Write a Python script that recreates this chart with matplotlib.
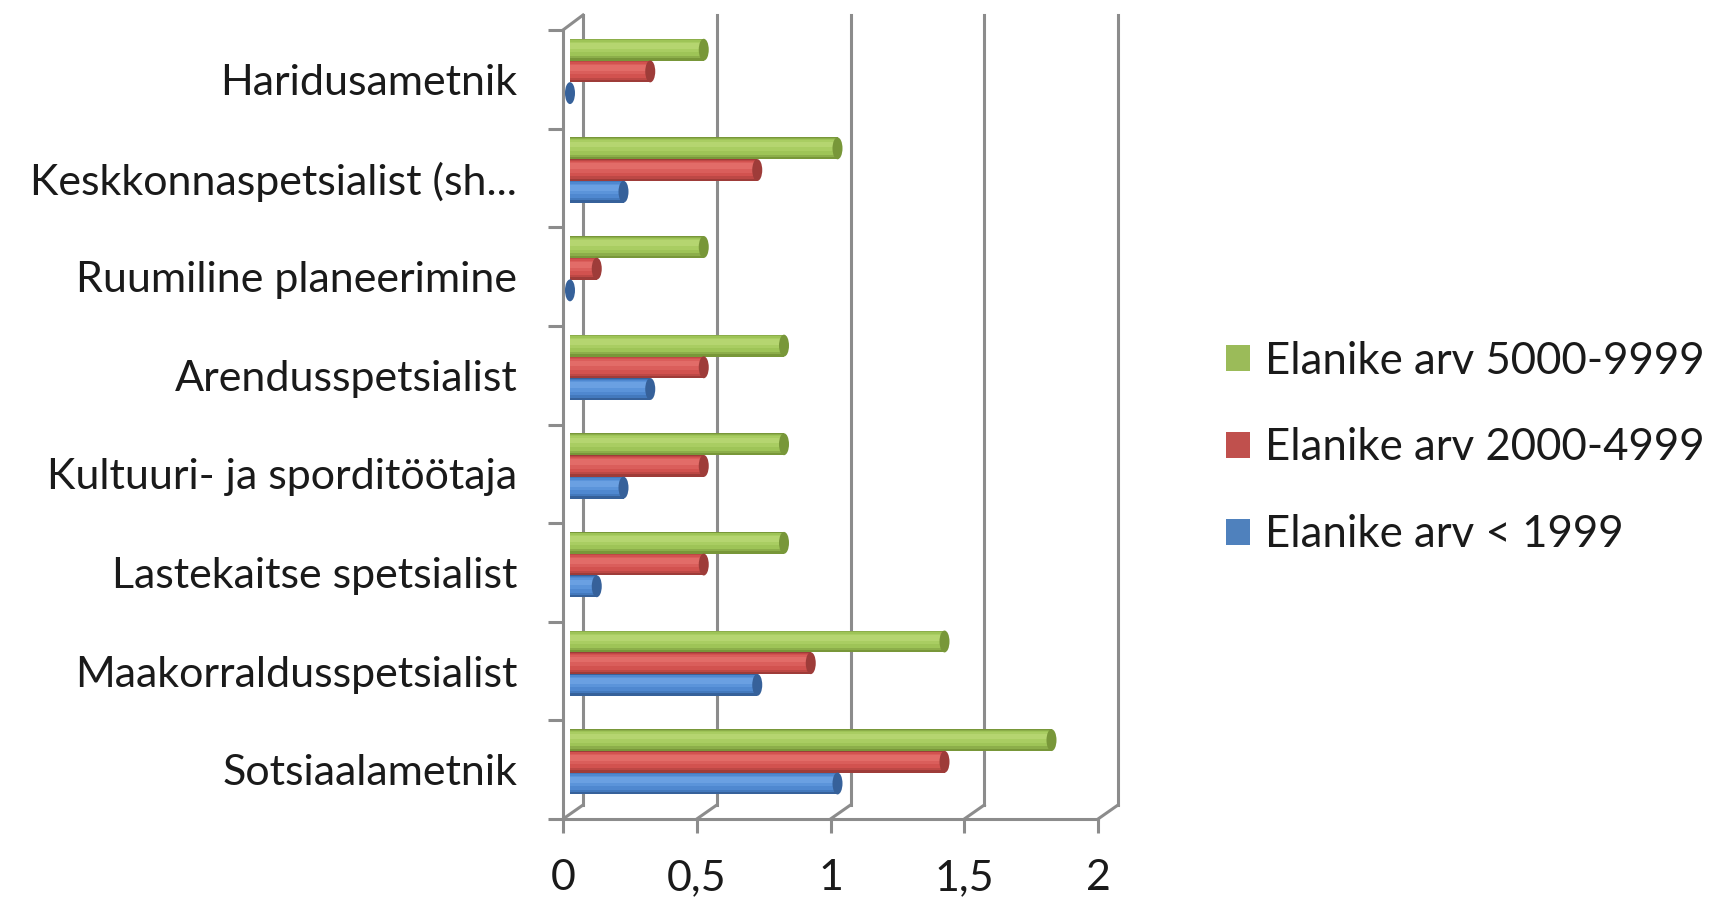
import matplotlib
matplotlib.use("Agg")
import matplotlib.pyplot as plt
from matplotlib.patches import Ellipse, Patch

plt.rcParams['font.family'] = ['Lato', 'DejaVu Sans']

# data (top to bottom as in the chart, reversed for plotting)
categories = ['Haridusametnik', 'Keskkonnaspetsialist (sh...', 'Ruumiline planeerimine',
              'Arendusspetsialist', 'Kultuuri- ja sporditöötaja', 'Lastekaitse spetsialist',
              'Maakorraldusspetsialist', 'Sotsiaalametnik']
small = [0.0, 0.2, 0.0, 0.3, 0.2, 0.1, 0.7, 1.0]    # Elanike arv < 1999
medium = [0.3, 0.7, 0.1, 0.5, 0.5, 0.5, 0.9, 1.4]   # Elanike arv 2000-4999
large = [0.5, 1.0, 0.5, 0.8, 0.8, 0.8, 1.4, 1.8]    # Elanike arv 5000-9999
series_names = ['Elanike arv < 1999', 'Elanike arv 2000-4999', 'Elanike arv 5000-9999']
xticks = [0, 0.5, 1, 1.5, 2]
xtick_labels = ['0', '0,5', '1', '1,5', '2']

# colours: shades from dark edge to highlight, plus legend colour
blue = (['#36619a', '#4379bd', '#4f88d0', '#5b94da', '#6aa0e2'], '#4f81bd')
red = (['#9e3c39', '#bd4845', '#d2524f', '#da5e5b', '#e26c68'], '#c0504d')
green = (['#789739', '#8cae4a', '#9ec457', '#a9cd62', '#b5d570'], '#9bbb59')
grid_col = '#8c8c8c'

fig = plt.figure(figsize=(17.21, 9.01), dpi=100)
W, H = 1721, 901
ax = fig.add_axes([563 / W, 1 - 819 / H, (1098 - 563) / W, (819 - 30) / H])
n = len(categories)
ax.set_xlim(0, 2)
ax.set_ylim(0, n)

# 3D depth offset of the back wall, in data units
px_x = 2 / (1098 - 563)
px_y = n / (819 - 30)
dx, dy = 20 * px_x, 14 * px_y

# back wall gridlines + floor diagonals
for v in xticks:
    ax.plot([v + dx, v + dx], [dy, n + dy * 1.07], color=grid_col, lw=2.2, clip_on=False, zorder=1)
    ax.plot([v, v + dx], [0, dy], color=grid_col, lw=2.2, clip_on=False, zorder=1)
ax.plot([0, dx], [n, n + dy * 1.07], color=grid_col, lw=2.2, clip_on=False, zorder=1)

# cylinders (stacked shading strips to fake the 3D look)
rows = list(range(n - 1, -1, -1))
h = 0.222
x0 = 7 * px_x
cap_w = 10 * px_x
layers = [(0.0, 1.0), (0.04, 0.86), (0.07, 0.72), (0.12, 0.48), (0.17, 0.26)]
for vals, off, col in [(small, 0.36, blue), (medium, 0.58, red), (large, 0.80, green)]:
    ys = [r + off for r in rows]
    for shade, (shift, frac) in zip(col[0], layers):
        ax.barh([y + h * shift for y in ys], vals, height=h * frac, left=x0, color=shade, zorder=3)
    for y, v in zip(ys, vals):
        ax.add_patch(Ellipse((x0 + v, y), cap_w, h, facecolor=col[0][0], edgecolor='none', zorder=4))

# axes styling
for s in ['top', 'right']:
    ax.spines[s].set_visible(False)
for s in ['left', 'bottom']:
    ax.spines[s].set_color(grid_col)
    ax.spines[s].set_linewidth(2.2)
    ax.spines[s].set_zorder(2)

ax.set_xticks(xticks)
ax.set_xticklabels(xtick_labels)
ax.tick_params(axis='x', length=10, width=2.2, color=grid_col, labelsize=31, pad=19,
               labelcolor='#1a1a1a')
ax.set_yticks([r + 0.5 for r in rows])
ax.set_yticklabels(categories)
ax.set_yticks(range(n + 1), minor=True)
ax.tick_params(axis='y', which='major', length=0, labelsize=31, pad=33, labelcolor='#1a1a1a')
ax.tick_params(axis='y', which='minor', length=10.8, width=2.2, color=grid_col)

handles = [Patch(facecolor=c[1], edgecolor='none') for c in [green, red, blue]]
fig.legend(handles, series_names[::-1], loc='center left', bbox_to_anchor=(1226 / W, 1 - 448 / H),
           frameon=False, fontsize=31.5, handlelength=0.55, handleheight=0.55, handletextpad=0.35,
           labelspacing=1.05, borderpad=0, borderaxespad=0, labelcolor='#1a1a1a')

fig.savefig('out.png', dpi=100)
